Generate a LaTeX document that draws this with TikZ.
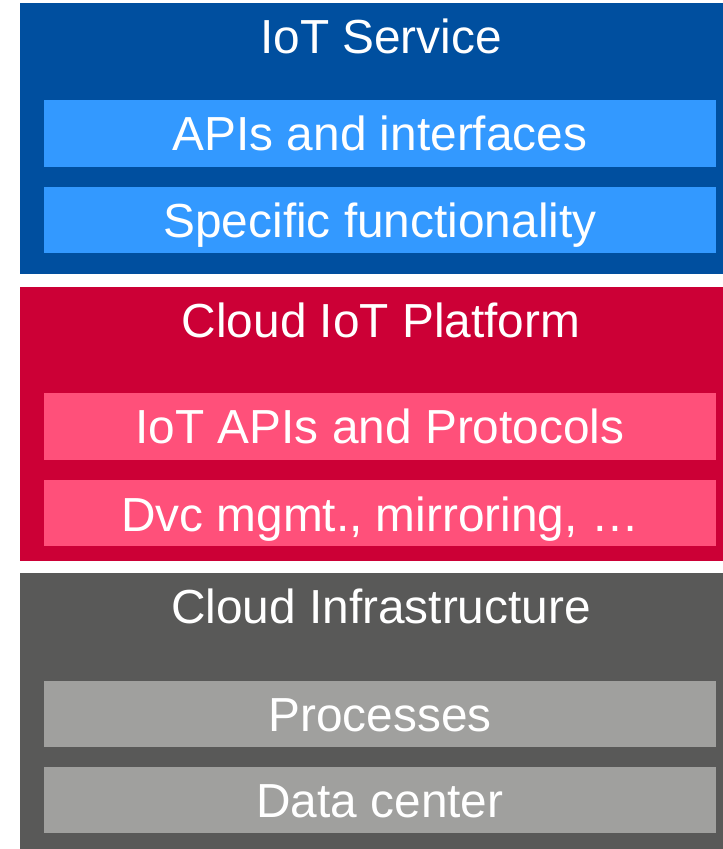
\documentclass[tikz,border=0pt]{standalone}
\usepackage{fontspec}
\setmainfont{Liberation Sans}
\definecolor{dblue}{HTML}{004F9F}
\definecolor{lblue}{HTML}{3399FF}
\definecolor{dred}{HTML}{CC0036}
\definecolor{lred}{HTML}{FF507A}
\definecolor{dgrey}{HTML}{595958}
\definecolor{lgrey}{HTML}{A0A09E}
\tikzset{
  lbl/.style={anchor=base, text=white, inner sep=0pt, font=\fontsize{47.8}{56}\selectfont},
}
\begin{document}
\begin{tikzpicture}[x=1pt,y=-1pt]
\useasboundingbox (0,0) rectangle (723,849);
% blocks
\fill[dblue] (20,3) rectangle (723,274);
\fill[dred] (20,287) rectangle (723,561);
\fill[dgrey] (20,573) rectangle (723,849);
% bars
\fill[lblue] (44,100) rectangle (716,167);
\fill[lblue] (44,187) rectangle (716,253);
\fill[lred] (44,393) rectangle (716,460);
\fill[lred] (44,480) rectangle (716,546);
\fill[lgrey] (44,681) rectangle (716,747);
\fill[lgrey] (44,767) rectangle (716,833);
% texts
\node[lbl] (t1) at (381,53) {IoT Service};
\node[lbl] (b1) at (380,150) {APIs and interfaces};
\node[lbl] (b2) at (380,237) {Specific functionality};
\node[lbl] (t2) at (381,337) {Cloud IoT Platform};
\node[lbl] (b3) at (380,443) {IoT APIs and Protocols};
\node[lbl] (b4) at (380,531) {Dvc mgmt., mirroring, …};
\node[lbl] (t3) at (381,623) {Cloud Infrastructure};
\node[lbl] (b5) at (380,731) {Processes};
\node[lbl] (b6) at (380,817) {Data center};
\end{tikzpicture}
\end{document}
